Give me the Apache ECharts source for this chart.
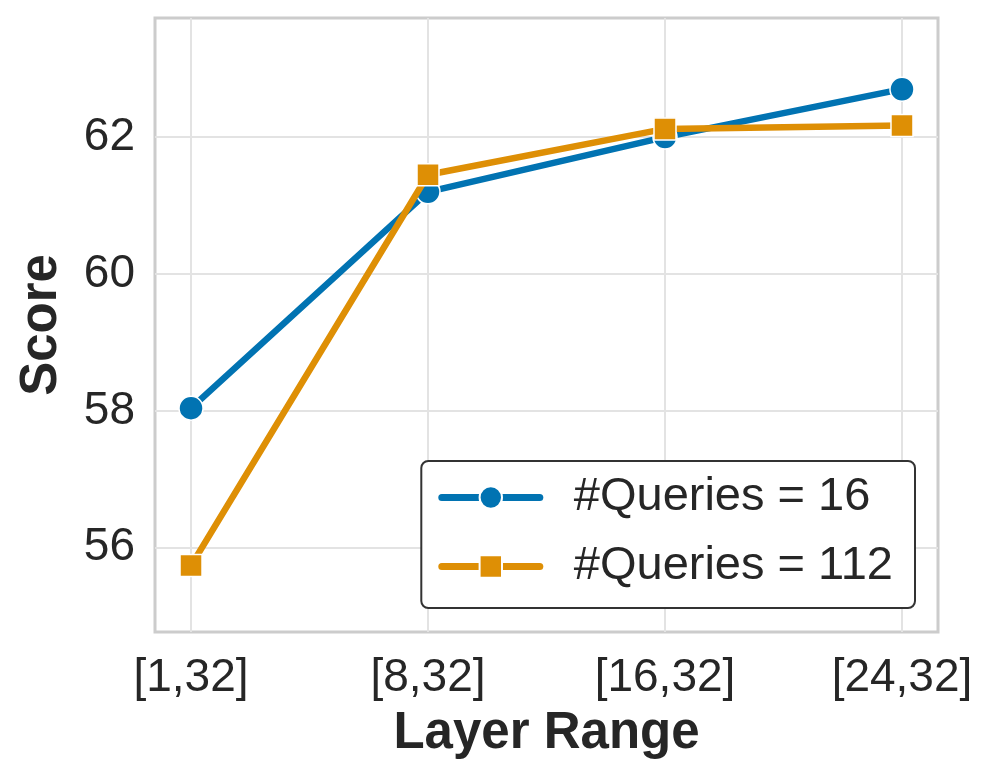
<!DOCTYPE html>
<html><head><meta charset="utf-8">
<script src="https://cdn.jsdelivr.net/npm/echarts@6/dist/echarts.min.js"></script>
<style>html,body{margin:0;padding:0;background:#fff}#c{width:997px;height:781px}</style>
</head><body><div id="c"></div>
<script>
const categories = ['[1,32]', '[8,32]', '[16,32]', '[24,32]'];
const q16 = [58.04, 61.2, 62.0, 62.7];
const q112 = [55.74, 61.45, 62.12, 62.17];
const yTicks = [56, 58, 60, 62];
const seriesNames = ['#Queries = 16', '#Queries = 112'];

const chart = echarts.init(document.getElementById('c'));
const font = '"Liberation Sans", Arial, sans-serif';
chart.setOption({
  animation: false,
  backgroundColor: '#fff',
  grid: {left: 155, top: 18, width: 783, height: 614, show: true, borderColor: '#cccccc', borderWidth: 3, containLabel: false},
  xAxis: {
    type: 'value', min: -0.152, max: 3.152,
    axisLine: {show: false},
    axisTick: {show: false, customValues: [0, 1, 2, 3]},
    splitLine: {show: true, lineStyle: {color: '#e3e3e3', width: 2}},
    axisLabel: {customValues: [0, 1, 2, 3], formatter: v => categories[Math.round(v)], fontSize: 46, color: '#262626', fontFamily: font, margin: 23},
    name: 'Layer Range', nameLocation: 'middle', nameGap: 76,
    nameTextStyle: {fontSize: 51, fontWeight: 'bold', color: '#262626', fontFamily: font}
  },
  yAxis: {
    type: 'value', min: 54.77, max: 63.74,
    axisLine: {show: false},
    axisTick: {show: false, customValues: yTicks},
    splitLine: {show: true, lineStyle: {color: '#e3e3e3', width: 2}},
    axisLabel: {customValues: yTicks, fontSize: 46, color: '#262626', fontFamily: font, margin: 20},
    name: 'Score', nameLocation: 'middle', nameGap: 88,
    nameTextStyle: {fontSize: 51, fontWeight: 'bold', color: '#262626', fontFamily: font}
  },
  legend: {
    right: 82, top: 461, orient: 'vertical',
    itemWidth: 98, itemHeight: 28, itemGap: 22,
    padding: [13, 22, 18, 17],
    borderColor: '#333', borderWidth: 2, borderRadius: 7,
    backgroundColor: '#fff',
    lineStyle: {width: 7, cap: 'round'},
    textStyle: {fontSize: 47, color: '#262626', fontFamily: font, padding: [0, 0, 0, 29]},
    data: seriesNames
  },
  series: [
    {name: seriesNames[0], type: 'line', data: q16.map((v, i) => [i, v]),
     symbol: 'circle', symbolSize: 24,
     lineStyle: {color: '#0173b2', width: 6.5},
     itemStyle: {color: '#0173b2', borderColor: '#fff', borderWidth: 1.5}, z: 2},
    {name: seriesNames[1], type: 'line', data: q112.map((v, i) => [i, v]),
     symbol: 'rect', symbolSize: 22,
     lineStyle: {color: '#de8f05', width: 6.5},
     itemStyle: {color: '#de8f05', borderColor: '#fff', borderWidth: 1.5}, z: 3}
  ]
});
</script></body></html>
